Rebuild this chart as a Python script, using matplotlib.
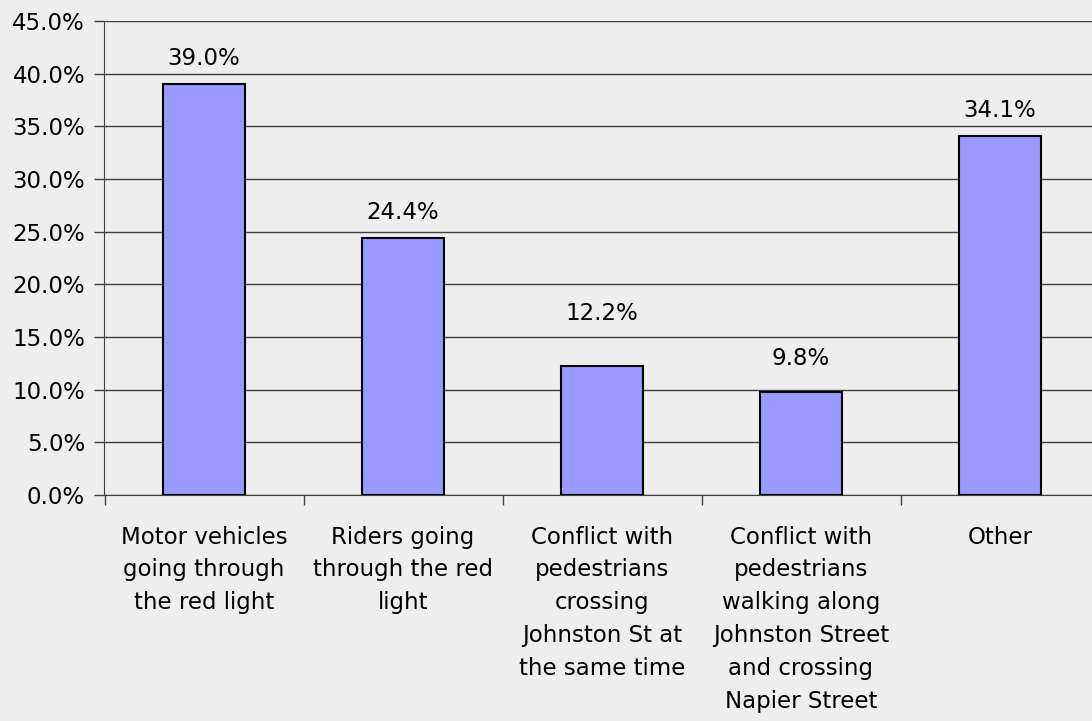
import numpy as np
import matplotlib.pyplot as plt
from matplotlib.ticker import PercentFormatter

categories = ["Motor vehicles\ngoing through\nthe red light",
              "Riders going\nthrough the red\nlight",
              "Conflict with\npedestrians\ncrossing\nJohnston St at\nthe same time",
              "Conflict with\npedestrians\nwalking along\nJohnston Street\nand crossing\nNapier Street",
              "Other"]
values = [39.0, 24.4, 12.2, 9.8, 34.1]
yticks = [0, 5, 10, 15, 20, 25, 30, 35, 40, 45]

# label offsets above bars (points)
label_offsets = [10, 10, 30, 16, 10]

bg = "#eeeeee"
fs = 16.5
fig = plt.figure(figsize=(10.92, 7.21), dpi=100, facecolor=bg)
ax = fig.add_axes([104.5/1092, (721-495)/721, 995/1092, 474/721], facecolor=bg)

x = np.arange(len(values))
ax.bar(x, values, width=0.41, color="#9999ff", edgecolor="black", linewidth=1.5, zorder=3)

for xi, v, off in zip(x, values, label_offsets):
    ax.annotate(f"{v:.1f}%", (xi, v), xytext=(0, off), textcoords="offset points",
                ha="center", va="bottom", fontsize=fs)

ax.set_xlim(-0.5, len(values) - 0.5)
ax.set_ylim(0, 45)
ax.set_yticks(yticks)
ax.yaxis.set_major_formatter(PercentFormatter(decimals=1))
ax.grid(axis="y", color="#404040", linewidth=1, zorder=0)

ax.set_xticks(x)
ax.set_xticklabels(categories, fontsize=fs, linespacing=1.55, va="top")
ax.set_xticks(np.arange(len(values) + 1) - 0.5, minor=True)
ax.tick_params(axis="x", which="major", length=0, pad=22)
ax.tick_params(axis="x", which="minor", length=7, width=1, color="#404040")
ax.tick_params(axis="y", length=7, width=1, color="#404040", labelsize=fs, pad=7)

for s in ["top", "right"]:
    ax.spines[s].set_visible(False)
ax.spines["left"].set_color("#404040")
ax.spines["bottom"].set_color("#404040")

fig.savefig("out.png", dpi=100, facecolor=bg)
